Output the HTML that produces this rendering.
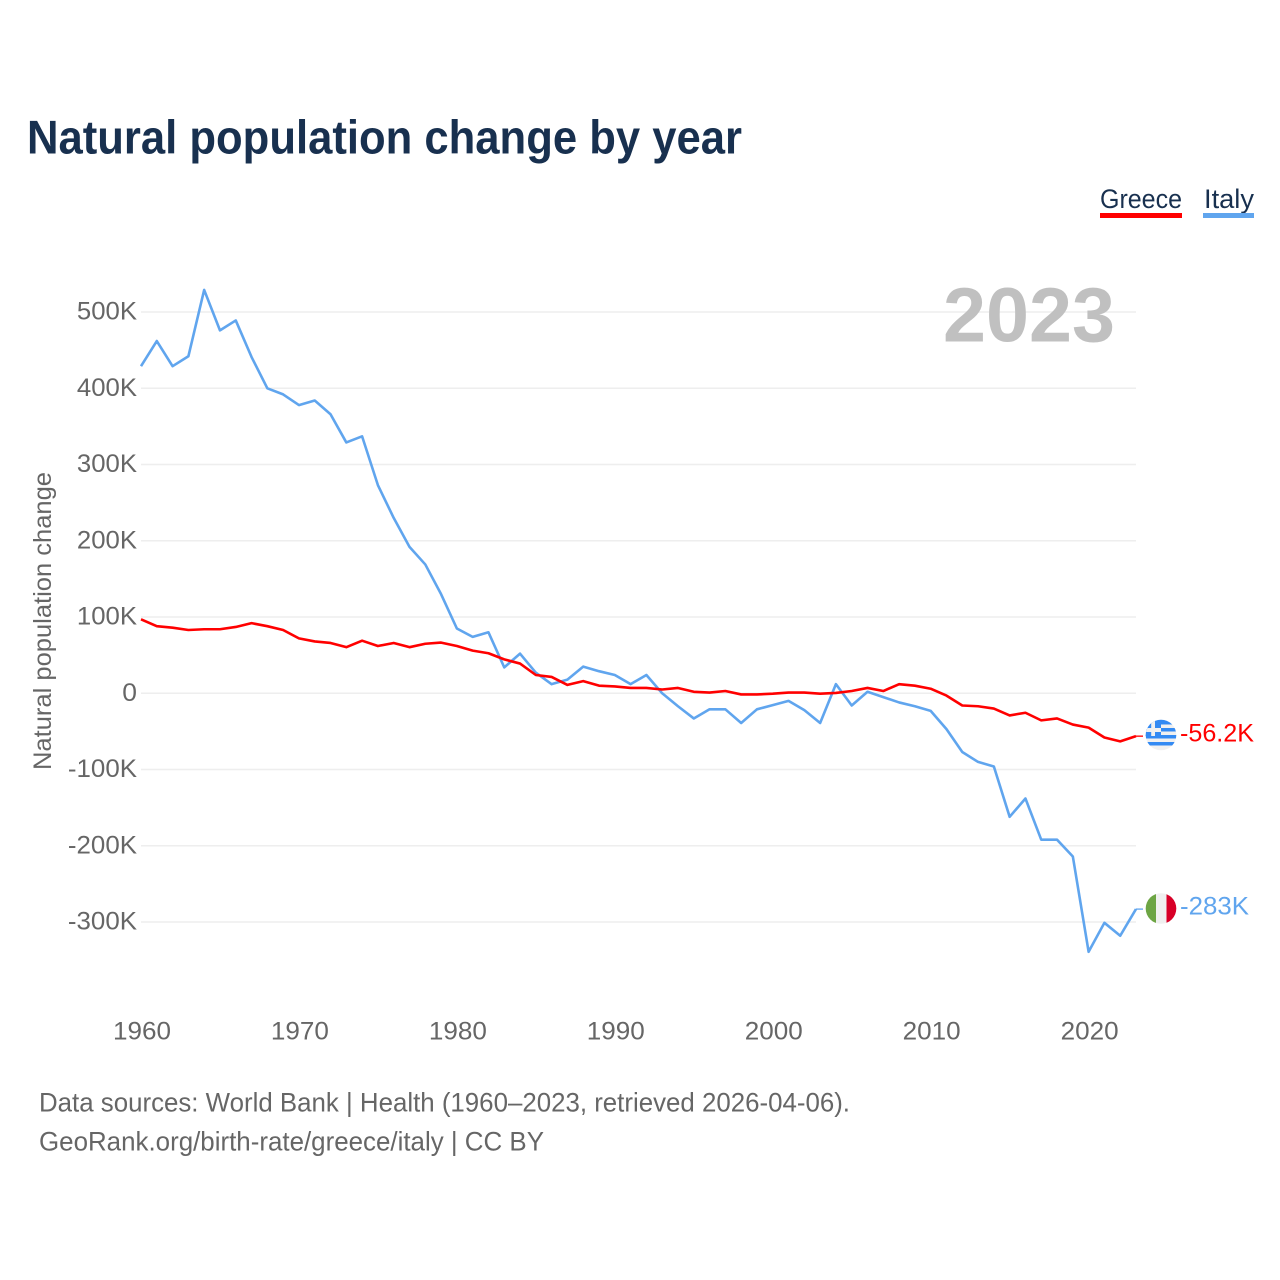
<!DOCTYPE html>
<html lang="en">
<head>
<meta charset="utf-8">
<title>Natural population change by year</title>
<style>
html,body{margin:0;padding:0;background:#fff;width:1280px;height:1280px;overflow:hidden}
svg{display:block;font-family:"Liberation Sans",sans-serif}
</style>
</head>
<body>
<svg id="chart" width="1280" height="1280" viewBox="0 0 1280 1280" xmlns="http://www.w3.org/2000/svg">
  <defs>
    <clipPath id="flag-clip-gr"><circle cx="1161" cy="735" r="15.3"/></clipPath>
    <clipPath id="flag-clip-it"><circle cx="1161" cy="908.5" r="15.3"/></clipPath>
  </defs>
  <text x="27" y="153.5" font-size="47" font-weight="700" fill="#18304f" textLength="715" lengthAdjust="spacingAndGlyphs">Natural population change by year</text>

  <g>
    <g>
      <text x="1100" y="208" font-size="27" fill="#18304f" textLength="82" lengthAdjust="spacingAndGlyphs">Greece</text>
      <rect x="1100" y="213" width="82" height="5" fill="#ff0000"/>
    </g>
    <g>
      <text x="1204" y="208" font-size="27" fill="#18304f" textLength="50" lengthAdjust="spacingAndGlyphs">Italy</text>
      <rect x="1203" y="213" width="51" height="5" fill="#60a5ee"/>
    </g>
  </g>

  <text transform="translate(51,621) rotate(-90)" text-anchor="middle" font-size="25" fill="#666666" textLength="298" lengthAdjust="spacingAndGlyphs">Natural population change</text>

  <g id="grid"></g>
  <g id="yticks"></g>
  <g id="xticks"></g>

  <text x="943" y="341.5" font-size="77" font-weight="700" fill="#c0c0c0" textLength="172" lengthAdjust="spacingAndGlyphs">2023</text>

  <g id="lines"></g>

  <g clip-path="url(#flag-clip-gr)">
    <rect x="1145" y="719" width="32" height="32" fill="#f0f0f0"/>
    <rect x="1145" y="719" width="32" height="5.5" fill="#338af3"/>
    <rect x="1145" y="728" width="32" height="3.5" fill="#338af3"/>
    <rect x="1145" y="735" width="32" height="3.5" fill="#338af3"/>
    <rect x="1145" y="742" width="32" height="3.5" fill="#338af3"/>
    <rect x="1145" y="724" width="16" height="12" fill="#338af3"/>
    <rect x="1151.2" y="719" width="3.8" height="17" fill="#f0f0f0"/>
    <rect x="1145" y="728" width="16" height="4" fill="#f0f0f0"/>
  </g>
  <g clip-path="url(#flag-clip-it)">
    <rect x="1145" y="892" width="11" height="33" fill="#6da544"/>
    <rect x="1156" y="892" width="10.5" height="33" fill="#f0f0f0"/>
    <rect x="1166.5" y="892" width="11" height="33" fill="#d80027"/>
  </g>

  <g id="endlabels"></g>

  <text x="39" y="1111.5" font-size="27" fill="#666666" textLength="811" lengthAdjust="spacingAndGlyphs">Data sources: World Bank | Health (1960–2023, retrieved 2026-04-06).</text>
  <text x="39" y="1150.5" font-size="27" fill="#666666" textLength="505" lengthAdjust="spacingAndGlyphs">GeoRank.org/birth-rate/greece/italy | CC BY</text>
</svg>
<script>
const firstYear = 1960;
const greeceValues = [97,88,86,83,84,84,87,92,88,83,72,68,66,60.5,69,62,66,60.5,65,66.5,62,56,52.5,44.5,39,24,21.5,11,16,10,9,7,7,5,7,2,1,3,-1.5,-1.5,-0.5,1,1,-0.5,0.5,3,7,3,12,10,6,-3,-16,-17,-20,-29,-25.5,-35.5,-33,-41,-45,-58,-63,-56.2];
const italyValues = [429,462,429,442,529,476,489,441,400,392,378,384,366,329,337,273,230,192,169,130,85,74,80,34,52,27,12,18,35,29,24,12,24,0,-17,-33,-21,-21,-39,-21,-15.5,-10,-22,-39,12,-16,2,-5,-12,-17,-23,-47,-77,-90,-96,-162,-138,-192,-192,-214,-339,-301,-318,-283];
const yTickValues = [500,400,300,200,100,0,-100,-200,-300];
const yTickLabels = ['500K','400K','300K','200K','100K','0','-100K','-200K','-300K'];
const xTickYears = [1960,1970,1980,1990,2000,2010,2020];
const greeceEndLabel = '-56.2K';
const italyEndLabel = '-283K';

const NS = 'http://www.w3.org/2000/svg';
function xScale(year) { return 141 + (year - 1960) * (995 / 63); }
function yScale(value) { return 693.3 - value * 0.7625; }
function widthFor(label) {
  let w = 0;
  for (const c of label) { w += c === '-' ? 9 : (c === 'K' ? 16 : (c === '.' ? 6 : 14.7)); }
  return w;
}

const grid = document.getElementById('grid');
const yticks = document.getElementById('yticks');
yTickValues.forEach((v, i) => {
  const line = document.createElementNS(NS, 'line');
  
  
  line.setAttribute('x1', 141);
  line.setAttribute('x2', 1136);
  line.setAttribute('y1', yScale(v));
  line.setAttribute('y2', yScale(v));
  line.setAttribute('stroke', '#eeeeee');
  line.setAttribute('stroke-width', '1.5');
  grid.appendChild(line);
  const t = document.createElementNS(NS, 'text');
  
  
  t.setAttribute('x', 137);
  t.setAttribute('y', yScale(v) + 7.5);
  t.setAttribute('text-anchor', 'end');
  t.setAttribute('font-size', '25');
  t.setAttribute('fill', '#666666');
  t.setAttribute('textLength', widthFor(yTickLabels[i]));
  t.setAttribute('lengthAdjust', 'spacingAndGlyphs');
  t.textContent = yTickLabels[i];
  yticks.appendChild(t);
});

const xticks = document.getElementById('xticks');
xTickYears.forEach(y => {
  const t = document.createElementNS(NS, 'text');
  
  
  t.setAttribute('x', xScale(y) + 1);
  t.setAttribute('y', 1039.5);
  t.setAttribute('text-anchor', 'middle');
  t.setAttribute('font-size', '25');
  t.setAttribute('fill', '#666666');
  t.setAttribute('textLength', '58');
  t.setAttribute('lengthAdjust', 'spacingAndGlyphs');
  t.textContent = String(y);
  xticks.appendChild(t);
});

const lines = document.getElementById('lines');
function pointsFor(values) {
  return values.map((v, i) => xScale(firstYear + i).toFixed(2) + ',' + yScale(v).toFixed(2)).join(' ');
}
const italyLine = document.createElementNS(NS, 'polyline');


italyLine.setAttribute('points', pointsFor(italyValues));
italyLine.setAttribute('fill', 'none');
italyLine.setAttribute('stroke', '#60a5ee');
italyLine.setAttribute('stroke-width', '2.6');
italyLine.setAttribute('stroke-linejoin', 'round');
lines.appendChild(italyLine);
const greeceLine = document.createElementNS(NS, 'polyline');


greeceLine.setAttribute('points', pointsFor(greeceValues));
greeceLine.setAttribute('fill', 'none');
greeceLine.setAttribute('stroke', '#ff0000');
greeceLine.setAttribute('stroke-width', '2.6');
greeceLine.setAttribute('stroke-linejoin', 'round');
lines.appendChild(greeceLine);

const italyLast = italyValues[italyValues.length - 1];
const greeceLast = greeceValues[greeceValues.length - 1];
const italyConnector = document.createElementNS(NS, 'line');


italyConnector.setAttribute('x1', 1136);
italyConnector.setAttribute('x2', 1143);
italyConnector.setAttribute('y1', yScale(italyLast));
italyConnector.setAttribute('y2', yScale(italyLast));
italyConnector.setAttribute('stroke', '#60a5ee');
italyConnector.setAttribute('stroke-width', '1.3');
lines.appendChild(italyConnector);
const greeceConnector = document.createElementNS(NS, 'line');


greeceConnector.setAttribute('x1', 1136);
greeceConnector.setAttribute('x2', 1143);
greeceConnector.setAttribute('y1', yScale(greeceLast));
greeceConnector.setAttribute('y2', yScale(greeceLast));
greeceConnector.setAttribute('stroke', '#ff0000');
greeceConnector.setAttribute('stroke-width', '1.3');
lines.appendChild(greeceConnector);

const endlabels = document.getElementById('endlabels');
const greeceLabel = document.createElementNS(NS, 'text');


greeceLabel.setAttribute('x', 1180);
greeceLabel.setAttribute('y', yScale(greeceLast) + 5.5);
greeceLabel.setAttribute('font-size', '25');
greeceLabel.setAttribute('fill', '#ff0000');
greeceLabel.setAttribute('textLength', '74');
greeceLabel.setAttribute('lengthAdjust', 'spacingAndGlyphs');
greeceLabel.textContent = greeceEndLabel;
endlabels.appendChild(greeceLabel);
const italyLabel = document.createElementNS(NS, 'text');


italyLabel.setAttribute('x', 1180);
italyLabel.setAttribute('y', yScale(italyLast) + 5.5);
italyLabel.setAttribute('font-size', '25');
italyLabel.setAttribute('fill', '#60a5ee');
italyLabel.setAttribute('textLength', '69');
italyLabel.setAttribute('lengthAdjust', 'spacingAndGlyphs');
italyLabel.textContent = italyEndLabel;
endlabels.appendChild(italyLabel);
</script>
</body>
</html>
